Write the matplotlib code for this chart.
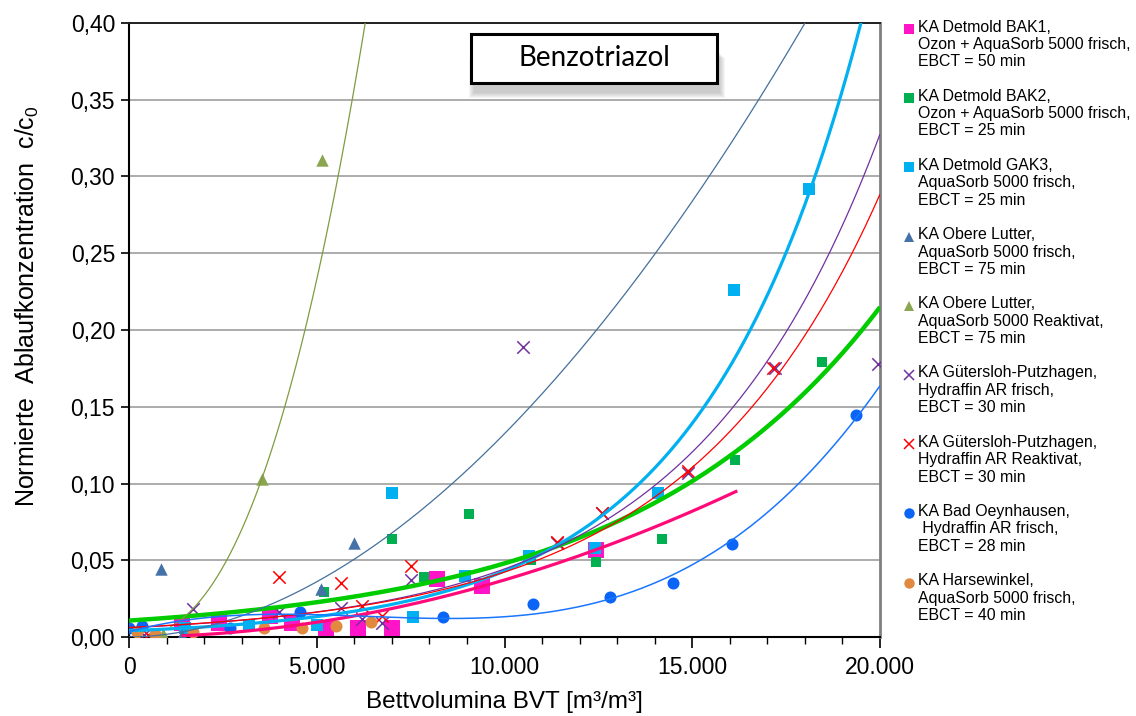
import numpy as np
import matplotlib
matplotlib.use("Agg")
import matplotlib.pyplot as plt
from matplotlib.ticker import FuncFormatter, MultipleLocator
from matplotlib.patches import Rectangle
from matplotlib.lines import Line2D

plt.rcParams['font.family'] = ['Liberation Sans', 'DejaVu Sans']

# Messwerte: Bettvolumina [m3/m3] und normierte Ablaufkonzentration c/c0
bak1_x = [1400, 2400, 3750, 4350, 5250, 6100, 7000, 8200, 9400, 12450]
bak1_y = [0.009, 0.009, 0.014, 0.009, 0.006, 0.006, 0.006, 0.038, 0.033, 0.057]

bak2_x = [5200, 7000, 7850, 9050, 10700, 12450, 14200, 16150, 18450]
bak2_y = [0.029, 0.064, 0.039, 0.080, 0.050, 0.049, 0.064, 0.115, 0.179]

gak3_x = [1500, 3200, 5000, 7000, 7550, 8950, 10650, 12400, 14100, 16100, 18100]
gak3_y = [0.006, 0.008, 0.008, 0.094, 0.013, 0.040, 0.053, 0.058, 0.094, 0.226, 0.292]

olf_x = [850, 1400, 5100, 6000]
olf_y = [0.044, 0.001, 0.031, 0.061]

olr_x = [900, 3550, 5150]
olr_y = [0.002, 0.103, 0.311]

gpf_x = [400, 1700, 4000, 5650, 6200, 6750, 7500, 10500, 11400, 12600, 14900, 17200, 19950]
gpf_y = [0.001, 0.018, 0.016, 0.019, 0.012, 0.009, 0.037, 0.189, 0.061, 0.081, 0.107, 0.175, 0.178]

gpr_x = [500, 4000, 5650, 6200, 6750, 7500, 11400, 12600, 14900, 17150]
gpr_y = [0.001, 0.039, 0.035, 0.020, 0.014, 0.046, 0.062, 0.081, 0.108, 0.175]

oey_x = [0, 350, 2700, 4550, 8350, 10750, 12800, 14500, 16050, 19350]
oey_y = [0.006, 0.007, 0.006, 0.016, 0.013, 0.0215, 0.026, 0.035, 0.0605, 0.1445]

har_x = [200, 700, 1700, 3600, 4600, 5500, 6450]
har_y = [0.003, 0.002, 0.003, 0.006, 0.006, 0.007, 0.010]

# Trendlinien (Typ, a, b, von, bis)
trend_bak1 = ('power', 5.89e-10, 1.95, 1400, 16200)
trend_bak2 = ('exp', 0.0107, 1.5e-4, 0, 20000)
trend_gak3 = ('exp', 0.0041, 2.35e-4, 0, 20000)
trend_olf = ('power', 4.0e-9, 1.88, 0, 20000)
trend_olr = ('power', 4.53e-10, 2.355, 1100, 20000)
trend_gpf = ('exp', 0.0060, 2.0e-4, 0, 20000)
trend_gpr = ('exp', 0.0062, 1.92e-4, 0, 20000)
trend_oey = ('poly', 3, None, 0, 20000)

series = [
    ("KA Detmold BAK1,\nOzon + AquaSorb 5000 frisch,\nEBCT = 50 min",
     bak1_x, bak1_y, 's', '#FF14C8', 125, trend_bak1, '#FF0A78', 2.3),
    ("KA Detmold BAK2,\nOzon + AquaSorb 5000 frisch,\nEBCT = 25 min",
     bak2_x, bak2_y, 's', '#00B050', 55, trend_bak2, '#00CC00', 3.2),
    ("KA Detmold GAK3,\nAquaSorb 5000 frisch,\nEBCT = 25 min",
     gak3_x, gak3_y, 's', '#00B0F0', 75, trend_gak3, '#00B0F0', 2.3),
    ("KA Obere Lutter,\nAquaSorb 5000 frisch,\nEBCT = 75 min",
     olf_x, olf_y, '^', '#4472A8', 80, trend_olf, '#44709C', 0.9),
    ("KA Obere Lutter,\nAquaSorb 5000 Reaktivat,\nEBCT = 75 min",
     olr_x, olr_y, '^', '#8BA650', 80, trend_olr, '#7F9C40', 0.9),
    ("KA Gütersloh-Putzhagen,\nHydraffin AR frisch,\nEBCT = 30 min",
     gpf_x, gpf_y, 'x', '#7030A0', 80, trend_gpf, '#7030A0', 0.9),
    ("KA Gütersloh-Putzhagen,\nHydraffin AR Reaktivat,\nEBCT = 30 min",
     gpr_x, gpr_y, 'x', '#FF0000', 80, trend_gpr, '#FF0000', 0.9),
    ("KA Bad Oeynhausen,\n Hydraffin AR frisch,\nEBCT = 28 min",
     oey_x, oey_y, 'o', '#0A64F5', 75, trend_oey, '#1A75FF', 1.1),
    ("KA Harsewinkel,\nAquaSorb 5000 frisch,\nEBCT = 40 min",
     har_x, har_y, 'o', '#E0893F', 75, None, None, 0),
]


def trend_curve(trend, xs, ys):
    kind, a, b, x0, x1 = trend
    xx = np.linspace(x0, x1, 500)
    if kind == 'exp':
        return xx, a * np.exp(b * xx)
    if kind == 'power':
        return xx, a * xx ** b
    coef = np.polyfit(xs, ys, a)
    return xx, np.polyval(coef, xx)


fig = plt.figure(figsize=(11.36, 7.16), dpi=100)
ax = fig.add_axes([129 / 1136, 1 - 637 / 716, 751 / 1136, 614 / 716])

for label, xs, ys, mk, col, size, trend, tcol, tlw in series:
    if mk == 'x':
        ax.scatter(xs, ys, marker=mk, s=size, color=col, linewidths=1.1, zorder=3)
    else:
        ax.scatter(xs, ys, marker=mk, s=size, color=col, linewidths=0, zorder=3)
    if trend is not None:
        tx, ty = trend_curve(trend, xs, ys)
        ax.plot(tx, ty, color=tcol, lw=tlw, zorder=4, solid_capstyle='butt')

ax.set_xlim(0, 20000)
ax.set_ylim(0, 0.40)
ax.yaxis.grid(True, color='#A6A6A6', lw=1.3)
ax.set_axisbelow(True)

ax.xaxis.set_major_locator(MultipleLocator(5000))
ax.xaxis.set_minor_locator(MultipleLocator(1000))
ax.yaxis.set_major_locator(MultipleLocator(0.05))
ax.xaxis.set_major_formatter(FuncFormatter(lambda v, p: f"{int(v):,}".replace(',', '.')))
ax.yaxis.set_major_formatter(FuncFormatter(lambda v, p: f"{v:.2f}".replace('.', ',')))
ax.tick_params(axis='x', which='major', direction='out', length=8, width=1.2, labelsize=16.5, pad=6)
ax.tick_params(axis='x', which='minor', direction='out', length=5, width=1)
ax.tick_params(axis='y', which='major', direction='out', length=6, width=1.2, labelsize=16.5, pad=4)

for side in ['left', 'bottom']:
    ax.spines[side].set_color('black')
    ax.spines[side].set_linewidth(1.5)
ax.spines['top'].set_color('#202020')
ax.spines['top'].set_linewidth(1.4)
ax.spines['right'].set_color('#808080')
ax.spines['right'].set_linewidth(2)

ax.set_xlabel("Bettvolumina BVT [m³/m³]", fontsize=17.5)
ax.xaxis.set_label_coords(0.5, -0.088)
ax.set_ylabel("Normierte  Ablaufkonzentration  c/c$_\\mathregular{0}$", fontsize=18)
ax.yaxis.set_label_coords(-0.117, 0.539)

# Titelfeld mit Schatten
for k in range(6):
    fig.patches.append(Rectangle(((474 - k) / 1136, 1 - (93 + k) / 716), (246 + 2 * k) / 1136, 40 / 716,
                                 transform=fig.transFigure, facecolor='#808080', alpha=0.08,
                                 edgecolor='none', zorder=5))
fig.patches.append(Rectangle((471 / 1136, 1 - 83 / 716), 246 / 1136, 49 / 716,
                             transform=fig.transFigure, facecolor='white', edgecolor='black',
                             lw=2.2, zorder=6))
fig.text(594 / 1136, 1 - 58 / 716, "Benzotriazol", fontsize=20, family=['Lato', 'DejaVu Sans'],
         ha='center', va='center', zorder=7)

# Legende rechts
for i, (label, xs, ys, mk, col, size, trend, tcol, tlw) in enumerate(series):
    y_px = 29 + 69.2 * i
    fy = 1 - y_px / 716
    if mk == 'x':
        fig.add_artist(Line2D([909 / 1136], [fy], marker='x', color=col, markersize=7.5, mew=1.1, ls='none'))
    else:
        fig.add_artist(Line2D([909 / 1136], [fy], marker=mk, color=col, markersize=7.5, mew=0, ls='none'))
    fig.text(918 / 1136, 1 - (y_px - 9.5) / 716, label, fontsize=11.4, va='top', ha='left', linespacing=1.2)

fig.savefig("out.png", dpi=100)
